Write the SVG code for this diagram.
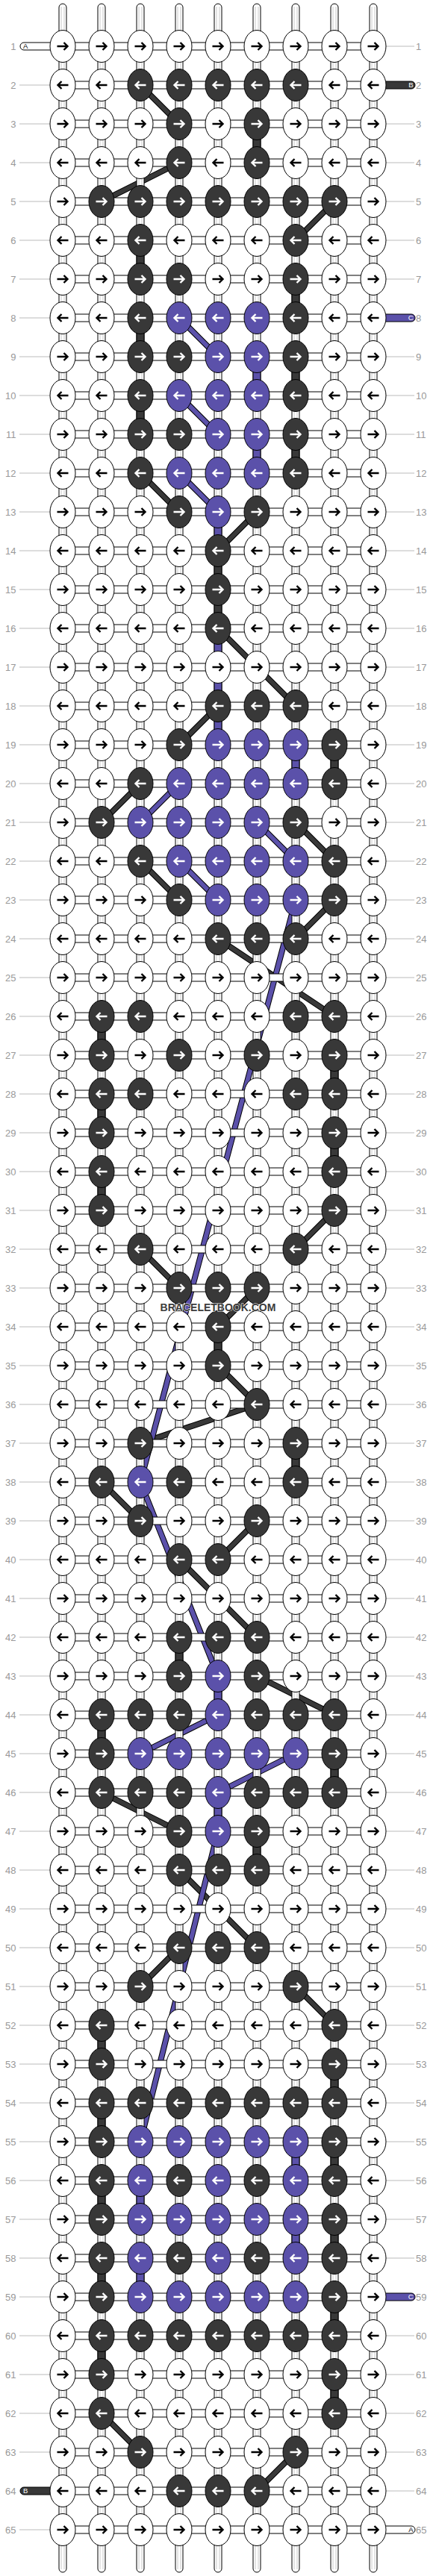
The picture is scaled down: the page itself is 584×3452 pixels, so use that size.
<svg xmlns="http://www.w3.org/2000/svg" xmlns:xlink="http://www.w3.org/1999/xlink" width="584" height="3452" viewBox="0 0 584 3452">
<style>
.kw{fill:#fff;stroke:#000;stroke-width:1}
.kd{fill:#383838;stroke:#000;stroke-width:1}
.kp{fill:#5b51aa;stroke:#000;stroke-width:1}
.ab{fill:none;stroke:#000;stroke-width:2.4}
.aw{fill:none;stroke:#fff;stroke-width:2.4}
.h{fill:#fff;stroke:#000;stroke-width:1}
.gl{fill:none;stroke:#bbb;stroke-width:1}
.nl{font:13px "Liberation Sans",Arial,sans-serif;fill:#999;text-anchor:end}
.nr{font:13px "Liberation Sans",Arial,sans-serif;fill:#999}
.tl{font:9.5px "Liberation Sans",Arial,sans-serif}
.so{fill:none;stroke:#000;stroke-width:8;stroke-linecap:butt}
.sd{fill:none;stroke:#383838;stroke-width:6;stroke-linecap:butt}
.sp{fill:none;stroke:#5b51aa;stroke-width:6;stroke-linecap:butt}
.col{fill:#fff;stroke:#000;stroke-width:1}
.inl{fill:none;stroke:#c8c8c8;stroke-width:1}
.vd{fill:#383838;stroke:#000;stroke-width:1}
.vp{fill:#5b51aa;stroke:#000;stroke-width:1}
.wm{font:bold 14px "Liberation Sans",Arial,sans-serif;fill:#3c3c3c;text-anchor:middle;stroke:#fff;stroke-width:1;paint-order:stroke}
</style>
<defs>
<g id="wR"><ellipse class="kw" rx="17" ry="21.5"/><path class="ab" d="M-7.5 0H6.5M1.5-5L6.5 0L1.5 5"/></g>
<g id="dR"><ellipse class="kd" rx="17" ry="21.5"/><path class="aw" d="M-7.5 0H6.5M1.5-5L6.5 0L1.5 5"/></g>
<g id="pR"><ellipse class="kp" rx="17" ry="21.5"/><path class="aw" d="M-7.5 0H6.5M1.5-5L6.5 0L1.5 5"/></g>
<g id="wL"><ellipse class="kw" rx="17" ry="21.5"/><path class="ab" d="M7.5 0H-6.5M-1.5-5L-6.5 0L-1.5 5"/></g>
<g id="dL"><ellipse class="kd" rx="17" ry="21.5"/><path class="aw" d="M7.5 0H-6.5M-1.5-5L-6.5 0L-1.5 5"/></g>
<g id="pL"><ellipse class="kp" rx="17" ry="21.5"/><path class="aw" d="M7.5 0H-6.5M-1.5-5L-6.5 0L-1.5 5"/></g>
<rect id="hc" class="h" x="84" y="-5" width="416" height="10"/>
<path id="gL" class="gl" d="M26 0H67"/>
<path id="gR" class="gl" d="M517 0H555"/>
<path id="pathD" d="M188 114L240 166M240 218L136 270M448 270L396 322M188 634L240 686M344 686L292 738M292 842L344 894L396 946M292 946L240 998M188 1050L136 1102M396 1102L448 1154M188 1154L240 1206M448 1206L396 1258M292 1258L448 1362M448 1622L396 1674M188 1674L240 1726M344 1726L292 1778M292 1830L344 1882L188 1934M136 1986L188 2038M344 2038L292 2090M240 2090L292 2142L344 2194M344 2246L448 2298M136 2402L240 2454M240 2506L292 2558L344 2610M240 2610L188 2662M396 2662L448 2714M136 3234L188 3286M396 3286L344 3338"/>
<path id="pathP" d="M240 426L292 478M240 530L292 582M240 634L292 686M240 1050L188 1102M344 1102L396 1154M240 1154L292 1206M396 1206L188 1986L292 2246M292 2298L188 2350M396 2350L292 2402M292 2454L188 2870"/>
</defs>
<rect width="584" height="3452" fill="#fff"/>
<g id="connectors">
<use href="#pathD" class="so"/><use href="#pathD" class="sd"/>
<use href="#pathP" class="so"/><use href="#pathP" class="sp"/>
</g>
<g id="threads">
<rect class="col" x="79" y="5" width="10" height="3442" rx="5"/>
<rect class="col" x="131" y="5" width="10" height="3442" rx="5"/>
<rect class="col" x="183" y="5" width="10" height="3442" rx="5"/>
<rect class="col" x="235" y="5" width="10" height="3442" rx="5"/>
<rect class="col" x="287" y="5" width="10" height="3442" rx="5"/>
<rect class="col" x="339" y="5" width="10" height="3442" rx="5"/>
<rect class="col" x="391" y="5" width="10" height="3442" rx="5"/>
<rect class="col" x="443" y="5" width="10" height="3442" rx="5"/>
<rect class="col" x="495" y="5" width="10" height="3442" rx="5"/>
<path class="inl" d="M82 9V3443M86 9V3443M134 9V3443M138 9V3443M186 9V3443M190 9V3443M238 9V3443M242 9V3443M290 9V3443M294 9V3443M342 9V3443M346 9V3443M394 9V3443M398 9V3443M446 9V3443M450 9V3443M498 9V3443M502 9V3443"/>
<rect class="vd" x="339" y="182" width="10" height="20"/>
<rect class="vd" x="183" y="338" width="10" height="20"/>
<rect class="vd" x="391" y="390" width="10" height="20"/>
<rect class="vd" x="183" y="442" width="10" height="20"/>
<rect class="vp" x="339" y="494" width="10" height="20"/>
<rect class="vd" x="391" y="494" width="10" height="20"/>
<rect class="vd" x="183" y="546" width="10" height="20"/>
<rect class="vp" x="339" y="598" width="10" height="20"/>
<rect class="vd" x="391" y="598" width="10" height="20"/>
<rect class="vp" x="287" y="702" width="10" height="20"/>
<rect class="vd" x="287" y="754" width="10" height="20"/>
<rect class="vd" x="287" y="806" width="10" height="20"/>
<rect class="vp" x="287" y="858" width="10" height="20"/>
<rect class="vp" x="287" y="910" width="10" height="20"/>
<rect class="vp" x="287" y="962" width="10" height="20"/>
<rect class="vp" x="391" y="1014" width="10" height="20"/>
<rect class="vd" x="443" y="1014" width="10" height="20"/>
<rect class="vd" x="131" y="1378" width="10" height="20"/>
<rect class="vd" x="443" y="1430" width="10" height="20"/>
<rect class="vd" x="131" y="1482" width="10" height="20"/>
<rect class="vd" x="443" y="1534" width="10" height="20"/>
<rect class="vd" x="131" y="1586" width="10" height="20"/>
<rect class="vd" x="287" y="1794" width="10" height="20"/>
<rect class="vd" x="391" y="1950" width="10" height="20"/>
<rect class="vd" x="235" y="2210" width="10" height="20"/>
<rect class="vp" x="287" y="2262" width="10" height="20"/>
<rect class="vd" x="131" y="2314" width="10" height="20"/>
<rect class="vd" x="443" y="2366" width="10" height="20"/>
<rect class="vp" x="287" y="2418" width="10" height="20"/>
<rect class="vd" x="339" y="2470" width="10" height="20"/>
<rect class="vd" x="131" y="2730" width="10" height="20"/>
<rect class="vd" x="443" y="2782" width="10" height="20"/>
<rect class="vd" x="131" y="2834" width="10" height="20"/>
<rect class="vp" x="391" y="2886" width="10" height="20"/>
<rect class="vd" x="443" y="2886" width="10" height="20"/>
<rect class="vd" x="131" y="2938" width="10" height="20"/>
<rect class="vp" x="183" y="2938" width="10" height="20"/>
<rect class="vp" x="391" y="2990" width="10" height="20"/>
<rect class="vd" x="443" y="2990" width="10" height="20"/>
<rect class="vd" x="131" y="3042" width="10" height="20"/>
<rect class="vp" x="183" y="3042" width="10" height="20"/>
<rect class="vd" x="443" y="3094" width="10" height="20"/>
<rect class="vd" x="131" y="3146" width="10" height="20"/>
<rect class="vd" x="443" y="3198" width="10" height="20"/>
</g>
<g id="row-1" transform="translate(0 62)"><text class="nl" x="21.5" y="4.5">1</text><use href="#gR"/><text class="nr" x="557" y="4.5">1</text><use href="#hc"/><path class="h" d="M75 -5H32A5 5 0 0 0 32 5H75Z"/><text class="tl" x="31" y="3.4" fill="#000">A</text><use href="#wR" x="84"/><use href="#wR" x="136"/><use href="#wR" x="188"/><use href="#wR" x="240"/><use href="#wR" x="292"/><use href="#wR" x="344"/><use href="#wR" x="396"/><use href="#wR" x="448"/><use href="#wR" x="500"/></g>
<g id="row-2" transform="translate(0 114)"><use href="#gL"/><text class="nl" x="21.5" y="4.5">2</text><text class="nr" x="557" y="4.5">2</text><use href="#hc"/><path class="kd" d="M509 -5H551A5 5 0 0 1 551 5H509Z"/><text class="tl" x="553.5" y="3.4" fill="#fff" text-anchor="end">B</text><use href="#wL" x="84"/><use href="#wL" x="136"/><use href="#dL" x="188"/><use href="#dL" x="240"/><use href="#dL" x="292"/><use href="#dL" x="344"/><use href="#dL" x="396"/><use href="#wL" x="448"/><use href="#wL" x="500"/></g>
<g id="row-3" transform="translate(0 166)"><use href="#gL"/><use href="#gR"/><text class="nl" x="21.5" y="4.5">3</text><text class="nr" x="557" y="4.5">3</text><use href="#hc"/><use href="#wR" x="84"/><use href="#wR" x="136"/><use href="#wR" x="188"/><use href="#dR" x="240"/><use href="#wR" x="292"/><use href="#dR" x="344"/><use href="#wR" x="396"/><use href="#wR" x="448"/><use href="#wR" x="500"/></g>
<g id="row-4" transform="translate(0 218)"><use href="#gL"/><use href="#gR"/><text class="nl" x="21.5" y="4.5">4</text><text class="nr" x="557" y="4.5">4</text><use href="#hc"/><use href="#wL" x="84"/><use href="#wL" x="136"/><use href="#wL" x="188"/><use href="#dL" x="240"/><use href="#wL" x="292"/><use href="#dL" x="344"/><use href="#wL" x="396"/><use href="#wL" x="448"/><use href="#wL" x="500"/></g>
<g id="row-5" transform="translate(0 270)"><use href="#gL"/><use href="#gR"/><text class="nl" x="21.5" y="4.5">5</text><text class="nr" x="557" y="4.5">5</text><use href="#hc"/><use href="#wR" x="84"/><use href="#dR" x="136"/><use href="#dR" x="188"/><use href="#dR" x="240"/><use href="#dR" x="292"/><use href="#dR" x="344"/><use href="#dR" x="396"/><use href="#dR" x="448"/><use href="#wR" x="500"/></g>
<g id="row-6" transform="translate(0 322)"><use href="#gL"/><use href="#gR"/><text class="nl" x="21.5" y="4.5">6</text><text class="nr" x="557" y="4.5">6</text><use href="#hc"/><use href="#wL" x="84"/><use href="#wL" x="136"/><use href="#dL" x="188"/><use href="#wL" x="240"/><use href="#wL" x="292"/><use href="#wL" x="344"/><use href="#dL" x="396"/><use href="#wL" x="448"/><use href="#wL" x="500"/></g>
<g id="row-7" transform="translate(0 374)"><use href="#gL"/><use href="#gR"/><text class="nl" x="21.5" y="4.5">7</text><text class="nr" x="557" y="4.5">7</text><use href="#hc"/><use href="#wR" x="84"/><use href="#wR" x="136"/><use href="#dR" x="188"/><use href="#dR" x="240"/><use href="#wR" x="292"/><use href="#wR" x="344"/><use href="#dR" x="396"/><use href="#wR" x="448"/><use href="#wR" x="500"/></g>
<g id="row-8" transform="translate(0 426)"><use href="#gL"/><text class="nl" x="21.5" y="4.5">8</text><text class="nr" x="557" y="4.5">8</text><use href="#hc"/><path class="kp" d="M509 -5H551A5 5 0 0 1 551 5H509Z"/><text class="tl" x="553.5" y="3.4" fill="#fff" text-anchor="end">C</text><use href="#wL" x="84"/><use href="#wL" x="136"/><use href="#dL" x="188"/><use href="#pL" x="240"/><use href="#pL" x="292"/><use href="#pL" x="344"/><use href="#dL" x="396"/><use href="#wL" x="448"/><use href="#wL" x="500"/></g>
<g id="row-9" transform="translate(0 478)"><use href="#gL"/><use href="#gR"/><text class="nl" x="21.5" y="4.5">9</text><text class="nr" x="557" y="4.5">9</text><use href="#hc"/><use href="#wR" x="84"/><use href="#wR" x="136"/><use href="#dR" x="188"/><use href="#dR" x="240"/><use href="#pR" x="292"/><use href="#pR" x="344"/><use href="#dR" x="396"/><use href="#wR" x="448"/><use href="#wR" x="500"/></g>
<g id="row-10" transform="translate(0 530)"><use href="#gL"/><use href="#gR"/><text class="nl" x="21.5" y="4.5">10</text><text class="nr" x="557" y="4.5">10</text><use href="#hc"/><use href="#wL" x="84"/><use href="#wL" x="136"/><use href="#dL" x="188"/><use href="#pL" x="240"/><use href="#pL" x="292"/><use href="#pL" x="344"/><use href="#dL" x="396"/><use href="#wL" x="448"/><use href="#wL" x="500"/></g>
<g id="row-11" transform="translate(0 582)"><use href="#gL"/><use href="#gR"/><text class="nl" x="21.5" y="4.5">11</text><text class="nr" x="557" y="4.5">11</text><use href="#hc"/><use href="#wR" x="84"/><use href="#wR" x="136"/><use href="#dR" x="188"/><use href="#dR" x="240"/><use href="#pR" x="292"/><use href="#pR" x="344"/><use href="#dR" x="396"/><use href="#wR" x="448"/><use href="#wR" x="500"/></g>
<g id="row-12" transform="translate(0 634)"><use href="#gL"/><use href="#gR"/><text class="nl" x="21.5" y="4.5">12</text><text class="nr" x="557" y="4.5">12</text><use href="#hc"/><use href="#wL" x="84"/><use href="#wL" x="136"/><use href="#dL" x="188"/><use href="#pL" x="240"/><use href="#pL" x="292"/><use href="#pL" x="344"/><use href="#dL" x="396"/><use href="#wL" x="448"/><use href="#wL" x="500"/></g>
<g id="row-13" transform="translate(0 686)"><use href="#gL"/><use href="#gR"/><text class="nl" x="21.5" y="4.5">13</text><text class="nr" x="557" y="4.5">13</text><use href="#hc"/><use href="#wR" x="84"/><use href="#wR" x="136"/><use href="#wR" x="188"/><use href="#dR" x="240"/><use href="#pR" x="292"/><use href="#dR" x="344"/><use href="#wR" x="396"/><use href="#wR" x="448"/><use href="#wR" x="500"/></g>
<g id="row-14" transform="translate(0 738)"><use href="#gL"/><use href="#gR"/><text class="nl" x="21.5" y="4.5">14</text><text class="nr" x="557" y="4.5">14</text><use href="#hc"/><use href="#wL" x="84"/><use href="#wL" x="136"/><use href="#wL" x="188"/><use href="#wL" x="240"/><use href="#dL" x="292"/><use href="#wL" x="344"/><use href="#wL" x="396"/><use href="#wL" x="448"/><use href="#wL" x="500"/></g>
<g id="row-15" transform="translate(0 790)"><use href="#gL"/><use href="#gR"/><text class="nl" x="21.5" y="4.5">15</text><text class="nr" x="557" y="4.5">15</text><use href="#hc"/><use href="#wR" x="84"/><use href="#wR" x="136"/><use href="#wR" x="188"/><use href="#wR" x="240"/><use href="#dR" x="292"/><use href="#wR" x="344"/><use href="#wR" x="396"/><use href="#wR" x="448"/><use href="#wR" x="500"/></g>
<g id="row-16" transform="translate(0 842)"><use href="#gL"/><use href="#gR"/><text class="nl" x="21.5" y="4.5">16</text><text class="nr" x="557" y="4.5">16</text><use href="#hc"/><use href="#wL" x="84"/><use href="#wL" x="136"/><use href="#wL" x="188"/><use href="#wL" x="240"/><use href="#dL" x="292"/><use href="#wL" x="344"/><use href="#wL" x="396"/><use href="#wL" x="448"/><use href="#wL" x="500"/></g>
<g id="row-17" transform="translate(0 894)"><use href="#gL"/><use href="#gR"/><text class="nl" x="21.5" y="4.5">17</text><text class="nr" x="557" y="4.5">17</text><use href="#hc"/><use href="#wR" x="84"/><use href="#wR" x="136"/><use href="#wR" x="188"/><use href="#wR" x="240"/><use href="#wR" x="292"/><use href="#wR" x="344"/><use href="#wR" x="396"/><use href="#wR" x="448"/><use href="#wR" x="500"/></g>
<g id="row-18" transform="translate(0 946)"><use href="#gL"/><use href="#gR"/><text class="nl" x="21.5" y="4.5">18</text><text class="nr" x="557" y="4.5">18</text><use href="#hc"/><use href="#wL" x="84"/><use href="#wL" x="136"/><use href="#wL" x="188"/><use href="#wL" x="240"/><use href="#dL" x="292"/><use href="#dL" x="344"/><use href="#dL" x="396"/><use href="#wL" x="448"/><use href="#wL" x="500"/></g>
<g id="row-19" transform="translate(0 998)"><use href="#gL"/><use href="#gR"/><text class="nl" x="21.5" y="4.5">19</text><text class="nr" x="557" y="4.5">19</text><use href="#hc"/><use href="#wR" x="84"/><use href="#wR" x="136"/><use href="#wR" x="188"/><use href="#dR" x="240"/><use href="#pR" x="292"/><use href="#pR" x="344"/><use href="#pR" x="396"/><use href="#dR" x="448"/><use href="#wR" x="500"/></g>
<g id="row-20" transform="translate(0 1050)"><use href="#gL"/><use href="#gR"/><text class="nl" x="21.5" y="4.5">20</text><text class="nr" x="557" y="4.5">20</text><use href="#hc"/><use href="#wL" x="84"/><use href="#wL" x="136"/><use href="#dL" x="188"/><use href="#pL" x="240"/><use href="#pL" x="292"/><use href="#pL" x="344"/><use href="#pL" x="396"/><use href="#dL" x="448"/><use href="#wL" x="500"/></g>
<g id="row-21" transform="translate(0 1102)"><use href="#gL"/><use href="#gR"/><text class="nl" x="21.5" y="4.5">21</text><text class="nr" x="557" y="4.5">21</text><use href="#hc"/><use href="#wR" x="84"/><use href="#dR" x="136"/><use href="#pR" x="188"/><use href="#pR" x="240"/><use href="#pR" x="292"/><use href="#pR" x="344"/><use href="#dR" x="396"/><use href="#wR" x="448"/><use href="#wR" x="500"/></g>
<g id="row-22" transform="translate(0 1154)"><use href="#gL"/><use href="#gR"/><text class="nl" x="21.5" y="4.5">22</text><text class="nr" x="557" y="4.5">22</text><use href="#hc"/><use href="#wL" x="84"/><use href="#wL" x="136"/><use href="#dL" x="188"/><use href="#pL" x="240"/><use href="#pL" x="292"/><use href="#pL" x="344"/><use href="#pL" x="396"/><use href="#dL" x="448"/><use href="#wL" x="500"/></g>
<g id="row-23" transform="translate(0 1206)"><use href="#gL"/><use href="#gR"/><text class="nl" x="21.5" y="4.5">23</text><text class="nr" x="557" y="4.5">23</text><use href="#hc"/><use href="#wR" x="84"/><use href="#wR" x="136"/><use href="#wR" x="188"/><use href="#dR" x="240"/><use href="#pR" x="292"/><use href="#pR" x="344"/><use href="#pR" x="396"/><use href="#dR" x="448"/><use href="#wR" x="500"/></g>
<g id="row-24" transform="translate(0 1258)"><use href="#gL"/><use href="#gR"/><text class="nl" x="21.5" y="4.5">24</text><text class="nr" x="557" y="4.5">24</text><use href="#hc"/><use href="#wL" x="84"/><use href="#wL" x="136"/><use href="#wL" x="188"/><use href="#wL" x="240"/><use href="#dL" x="292"/><use href="#dL" x="344"/><use href="#dL" x="396"/><use href="#wL" x="448"/><use href="#wL" x="500"/></g>
<g id="row-25" transform="translate(0 1310)"><use href="#gL"/><use href="#gR"/><text class="nl" x="21.5" y="4.5">25</text><text class="nr" x="557" y="4.5">25</text><use href="#hc"/><use href="#wR" x="84"/><use href="#wR" x="136"/><use href="#wR" x="188"/><use href="#wR" x="240"/><use href="#wR" x="292"/><use href="#wR" x="344"/><use href="#wR" x="396"/><use href="#wR" x="448"/><use href="#wR" x="500"/></g>
<g id="row-26" transform="translate(0 1362)"><use href="#gL"/><use href="#gR"/><text class="nl" x="21.5" y="4.5">26</text><text class="nr" x="557" y="4.5">26</text><use href="#hc"/><use href="#wL" x="84"/><use href="#dL" x="136"/><use href="#dL" x="188"/><use href="#wL" x="240"/><use href="#wL" x="292"/><use href="#wL" x="344"/><use href="#dL" x="396"/><use href="#dL" x="448"/><use href="#wL" x="500"/></g>
<g id="row-27" transform="translate(0 1414)"><use href="#gL"/><use href="#gR"/><text class="nl" x="21.5" y="4.5">27</text><text class="nr" x="557" y="4.5">27</text><use href="#hc"/><use href="#wR" x="84"/><use href="#dR" x="136"/><use href="#wR" x="188"/><use href="#dR" x="240"/><use href="#wR" x="292"/><use href="#dR" x="344"/><use href="#wR" x="396"/><use href="#dR" x="448"/><use href="#wR" x="500"/></g>
<g id="row-28" transform="translate(0 1466)"><use href="#gL"/><use href="#gR"/><text class="nl" x="21.5" y="4.5">28</text><text class="nr" x="557" y="4.5">28</text><use href="#hc"/><use href="#wL" x="84"/><use href="#dL" x="136"/><use href="#dL" x="188"/><use href="#wL" x="240"/><use href="#wL" x="292"/><use href="#wL" x="344"/><use href="#dL" x="396"/><use href="#dL" x="448"/><use href="#wL" x="500"/></g>
<g id="row-29" transform="translate(0 1518)"><use href="#gL"/><use href="#gR"/><text class="nl" x="21.5" y="4.5">29</text><text class="nr" x="557" y="4.5">29</text><use href="#hc"/><use href="#wR" x="84"/><use href="#dR" x="136"/><use href="#wR" x="188"/><use href="#wR" x="240"/><use href="#wR" x="292"/><use href="#wR" x="344"/><use href="#wR" x="396"/><use href="#dR" x="448"/><use href="#wR" x="500"/></g>
<g id="row-30" transform="translate(0 1570)"><use href="#gL"/><use href="#gR"/><text class="nl" x="21.5" y="4.5">30</text><text class="nr" x="557" y="4.5">30</text><use href="#hc"/><use href="#wL" x="84"/><use href="#dL" x="136"/><use href="#wL" x="188"/><use href="#wL" x="240"/><use href="#wL" x="292"/><use href="#wL" x="344"/><use href="#wL" x="396"/><use href="#dL" x="448"/><use href="#wL" x="500"/></g>
<g id="row-31" transform="translate(0 1622)"><use href="#gL"/><use href="#gR"/><text class="nl" x="21.5" y="4.5">31</text><text class="nr" x="557" y="4.5">31</text><use href="#hc"/><use href="#wR" x="84"/><use href="#dR" x="136"/><use href="#wR" x="188"/><use href="#wR" x="240"/><use href="#wR" x="292"/><use href="#wR" x="344"/><use href="#wR" x="396"/><use href="#dR" x="448"/><use href="#wR" x="500"/></g>
<g id="row-32" transform="translate(0 1674)"><use href="#gL"/><use href="#gR"/><text class="nl" x="21.5" y="4.5">32</text><text class="nr" x="557" y="4.5">32</text><use href="#hc"/><use href="#wL" x="84"/><use href="#wL" x="136"/><use href="#dL" x="188"/><use href="#wL" x="240"/><use href="#wL" x="292"/><use href="#wL" x="344"/><use href="#dL" x="396"/><use href="#wL" x="448"/><use href="#wL" x="500"/></g>
<g id="row-33" transform="translate(0 1726)"><use href="#gL"/><use href="#gR"/><text class="nl" x="21.5" y="4.5">33</text><text class="nr" x="557" y="4.5">33</text><use href="#hc"/><use href="#wR" x="84"/><use href="#wR" x="136"/><use href="#wR" x="188"/><use href="#dR" x="240"/><use href="#dR" x="292"/><use href="#dR" x="344"/><use href="#wR" x="396"/><use href="#wR" x="448"/><use href="#wR" x="500"/></g>
<g id="row-34" transform="translate(0 1778)"><use href="#gL"/><use href="#gR"/><text class="nl" x="21.5" y="4.5">34</text><text class="nr" x="557" y="4.5">34</text><use href="#hc"/><use href="#wL" x="84"/><use href="#wL" x="136"/><use href="#wL" x="188"/><use href="#wL" x="240"/><use href="#dL" x="292"/><use href="#wL" x="344"/><use href="#wL" x="396"/><use href="#wL" x="448"/><use href="#wL" x="500"/></g>
<g id="row-35" transform="translate(0 1830)"><use href="#gL"/><use href="#gR"/><text class="nl" x="21.5" y="4.5">35</text><text class="nr" x="557" y="4.5">35</text><use href="#hc"/><use href="#wR" x="84"/><use href="#wR" x="136"/><use href="#wR" x="188"/><use href="#wR" x="240"/><use href="#dR" x="292"/><use href="#wR" x="344"/><use href="#wR" x="396"/><use href="#wR" x="448"/><use href="#wR" x="500"/></g>
<g id="row-36" transform="translate(0 1882)"><use href="#gL"/><use href="#gR"/><text class="nl" x="21.5" y="4.5">36</text><text class="nr" x="557" y="4.5">36</text><use href="#hc"/><use href="#wL" x="84"/><use href="#wL" x="136"/><use href="#wL" x="188"/><use href="#wL" x="240"/><use href="#wL" x="292"/><use href="#dL" x="344"/><use href="#wL" x="396"/><use href="#wL" x="448"/><use href="#wL" x="500"/></g>
<g id="row-37" transform="translate(0 1934)"><use href="#gL"/><use href="#gR"/><text class="nl" x="21.5" y="4.5">37</text><text class="nr" x="557" y="4.5">37</text><use href="#hc"/><use href="#wR" x="84"/><use href="#wR" x="136"/><use href="#dR" x="188"/><use href="#wR" x="240"/><use href="#wR" x="292"/><use href="#wR" x="344"/><use href="#dR" x="396"/><use href="#wR" x="448"/><use href="#wR" x="500"/></g>
<g id="row-38" transform="translate(0 1986)"><use href="#gL"/><use href="#gR"/><text class="nl" x="21.5" y="4.5">38</text><text class="nr" x="557" y="4.5">38</text><use href="#hc"/><use href="#wL" x="84"/><use href="#dL" x="136"/><use href="#pL" x="188"/><use href="#dL" x="240"/><use href="#wL" x="292"/><use href="#wL" x="344"/><use href="#dL" x="396"/><use href="#wL" x="448"/><use href="#wL" x="500"/></g>
<g id="row-39" transform="translate(0 2038)"><use href="#gL"/><use href="#gR"/><text class="nl" x="21.5" y="4.5">39</text><text class="nr" x="557" y="4.5">39</text><use href="#hc"/><use href="#wR" x="84"/><use href="#wR" x="136"/><use href="#dR" x="188"/><use href="#wR" x="240"/><use href="#wR" x="292"/><use href="#dR" x="344"/><use href="#wR" x="396"/><use href="#wR" x="448"/><use href="#wR" x="500"/></g>
<g id="row-40" transform="translate(0 2090)"><use href="#gL"/><use href="#gR"/><text class="nl" x="21.5" y="4.5">40</text><text class="nr" x="557" y="4.5">40</text><use href="#hc"/><use href="#wL" x="84"/><use href="#wL" x="136"/><use href="#wL" x="188"/><use href="#dL" x="240"/><use href="#dL" x="292"/><use href="#wL" x="344"/><use href="#wL" x="396"/><use href="#wL" x="448"/><use href="#wL" x="500"/></g>
<g id="row-41" transform="translate(0 2142)"><use href="#gL"/><use href="#gR"/><text class="nl" x="21.5" y="4.5">41</text><text class="nr" x="557" y="4.5">41</text><use href="#hc"/><use href="#wR" x="84"/><use href="#wR" x="136"/><use href="#wR" x="188"/><use href="#wR" x="240"/><use href="#wR" x="292"/><use href="#wR" x="344"/><use href="#wR" x="396"/><use href="#wR" x="448"/><use href="#wR" x="500"/></g>
<g id="row-42" transform="translate(0 2194)"><use href="#gL"/><use href="#gR"/><text class="nl" x="21.5" y="4.5">42</text><text class="nr" x="557" y="4.5">42</text><use href="#hc"/><use href="#wL" x="84"/><use href="#wL" x="136"/><use href="#wL" x="188"/><use href="#dL" x="240"/><use href="#dL" x="292"/><use href="#dL" x="344"/><use href="#wL" x="396"/><use href="#wL" x="448"/><use href="#wL" x="500"/></g>
<g id="row-43" transform="translate(0 2246)"><use href="#gL"/><use href="#gR"/><text class="nl" x="21.5" y="4.5">43</text><text class="nr" x="557" y="4.5">43</text><use href="#hc"/><use href="#wR" x="84"/><use href="#wR" x="136"/><use href="#wR" x="188"/><use href="#dR" x="240"/><use href="#pR" x="292"/><use href="#dR" x="344"/><use href="#wR" x="396"/><use href="#wR" x="448"/><use href="#wR" x="500"/></g>
<g id="row-44" transform="translate(0 2298)"><use href="#gL"/><use href="#gR"/><text class="nl" x="21.5" y="4.5">44</text><text class="nr" x="557" y="4.5">44</text><use href="#hc"/><use href="#wL" x="84"/><use href="#dL" x="136"/><use href="#dL" x="188"/><use href="#dL" x="240"/><use href="#pL" x="292"/><use href="#dL" x="344"/><use href="#dL" x="396"/><use href="#dL" x="448"/><use href="#wL" x="500"/></g>
<g id="row-45" transform="translate(0 2350)"><use href="#gL"/><use href="#gR"/><text class="nl" x="21.5" y="4.5">45</text><text class="nr" x="557" y="4.5">45</text><use href="#hc"/><use href="#wR" x="84"/><use href="#dR" x="136"/><use href="#pR" x="188"/><use href="#pR" x="240"/><use href="#pR" x="292"/><use href="#pR" x="344"/><use href="#pR" x="396"/><use href="#dR" x="448"/><use href="#wR" x="500"/></g>
<g id="row-46" transform="translate(0 2402)"><use href="#gL"/><use href="#gR"/><text class="nl" x="21.5" y="4.5">46</text><text class="nr" x="557" y="4.5">46</text><use href="#hc"/><use href="#wL" x="84"/><use href="#dL" x="136"/><use href="#dL" x="188"/><use href="#dL" x="240"/><use href="#pL" x="292"/><use href="#dL" x="344"/><use href="#dL" x="396"/><use href="#dL" x="448"/><use href="#wL" x="500"/></g>
<g id="row-47" transform="translate(0 2454)"><use href="#gL"/><use href="#gR"/><text class="nl" x="21.5" y="4.5">47</text><text class="nr" x="557" y="4.5">47</text><use href="#hc"/><use href="#wR" x="84"/><use href="#wR" x="136"/><use href="#wR" x="188"/><use href="#dR" x="240"/><use href="#pR" x="292"/><use href="#dR" x="344"/><use href="#wR" x="396"/><use href="#wR" x="448"/><use href="#wR" x="500"/></g>
<g id="row-48" transform="translate(0 2506)"><use href="#gL"/><use href="#gR"/><text class="nl" x="21.5" y="4.5">48</text><text class="nr" x="557" y="4.5">48</text><use href="#hc"/><use href="#wL" x="84"/><use href="#wL" x="136"/><use href="#wL" x="188"/><use href="#dL" x="240"/><use href="#dL" x="292"/><use href="#dL" x="344"/><use href="#wL" x="396"/><use href="#wL" x="448"/><use href="#wL" x="500"/></g>
<g id="row-49" transform="translate(0 2558)"><use href="#gL"/><use href="#gR"/><text class="nl" x="21.5" y="4.5">49</text><text class="nr" x="557" y="4.5">49</text><use href="#hc"/><use href="#wR" x="84"/><use href="#wR" x="136"/><use href="#wR" x="188"/><use href="#wR" x="240"/><use href="#wR" x="292"/><use href="#wR" x="344"/><use href="#wR" x="396"/><use href="#wR" x="448"/><use href="#wR" x="500"/></g>
<g id="row-50" transform="translate(0 2610)"><use href="#gL"/><use href="#gR"/><text class="nl" x="21.5" y="4.5">50</text><text class="nr" x="557" y="4.5">50</text><use href="#hc"/><use href="#wL" x="84"/><use href="#wL" x="136"/><use href="#wL" x="188"/><use href="#dL" x="240"/><use href="#dL" x="292"/><use href="#dL" x="344"/><use href="#wL" x="396"/><use href="#wL" x="448"/><use href="#wL" x="500"/></g>
<g id="row-51" transform="translate(0 2662)"><use href="#gL"/><use href="#gR"/><text class="nl" x="21.5" y="4.5">51</text><text class="nr" x="557" y="4.5">51</text><use href="#hc"/><use href="#wR" x="84"/><use href="#wR" x="136"/><use href="#dR" x="188"/><use href="#wR" x="240"/><use href="#wR" x="292"/><use href="#wR" x="344"/><use href="#dR" x="396"/><use href="#wR" x="448"/><use href="#wR" x="500"/></g>
<g id="row-52" transform="translate(0 2714)"><use href="#gL"/><use href="#gR"/><text class="nl" x="21.5" y="4.5">52</text><text class="nr" x="557" y="4.5">52</text><use href="#hc"/><use href="#wL" x="84"/><use href="#dL" x="136"/><use href="#wL" x="188"/><use href="#wL" x="240"/><use href="#wL" x="292"/><use href="#wL" x="344"/><use href="#wL" x="396"/><use href="#dL" x="448"/><use href="#wL" x="500"/></g>
<g id="row-53" transform="translate(0 2766)"><use href="#gL"/><use href="#gR"/><text class="nl" x="21.5" y="4.5">53</text><text class="nr" x="557" y="4.5">53</text><use href="#hc"/><use href="#wR" x="84"/><use href="#dR" x="136"/><use href="#wR" x="188"/><use href="#wR" x="240"/><use href="#wR" x="292"/><use href="#wR" x="344"/><use href="#wR" x="396"/><use href="#dR" x="448"/><use href="#wR" x="500"/></g>
<g id="row-54" transform="translate(0 2818)"><use href="#gL"/><use href="#gR"/><text class="nl" x="21.5" y="4.5">54</text><text class="nr" x="557" y="4.5">54</text><use href="#hc"/><use href="#wL" x="84"/><use href="#dL" x="136"/><use href="#dL" x="188"/><use href="#dL" x="240"/><use href="#dL" x="292"/><use href="#dL" x="344"/><use href="#dL" x="396"/><use href="#dL" x="448"/><use href="#wL" x="500"/></g>
<g id="row-55" transform="translate(0 2870)"><use href="#gL"/><use href="#gR"/><text class="nl" x="21.5" y="4.5">55</text><text class="nr" x="557" y="4.5">55</text><use href="#hc"/><use href="#wR" x="84"/><use href="#dR" x="136"/><use href="#pR" x="188"/><use href="#pR" x="240"/><use href="#pR" x="292"/><use href="#pR" x="344"/><use href="#pR" x="396"/><use href="#dR" x="448"/><use href="#wR" x="500"/></g>
<g id="row-56" transform="translate(0 2922)"><use href="#gL"/><use href="#gR"/><text class="nl" x="21.5" y="4.5">56</text><text class="nr" x="557" y="4.5">56</text><use href="#hc"/><use href="#wL" x="84"/><use href="#dL" x="136"/><use href="#pL" x="188"/><use href="#dL" x="240"/><use href="#pL" x="292"/><use href="#dL" x="344"/><use href="#pL" x="396"/><use href="#dL" x="448"/><use href="#wL" x="500"/></g>
<g id="row-57" transform="translate(0 2974)"><use href="#gL"/><use href="#gR"/><text class="nl" x="21.5" y="4.5">57</text><text class="nr" x="557" y="4.5">57</text><use href="#hc"/><use href="#wR" x="84"/><use href="#dR" x="136"/><use href="#pR" x="188"/><use href="#pR" x="240"/><use href="#pR" x="292"/><use href="#pR" x="344"/><use href="#pR" x="396"/><use href="#dR" x="448"/><use href="#wR" x="500"/></g>
<g id="row-58" transform="translate(0 3026)"><use href="#gL"/><use href="#gR"/><text class="nl" x="21.5" y="4.5">58</text><text class="nr" x="557" y="4.5">58</text><use href="#hc"/><use href="#wL" x="84"/><use href="#dL" x="136"/><use href="#pL" x="188"/><use href="#dL" x="240"/><use href="#pL" x="292"/><use href="#dL" x="344"/><use href="#pL" x="396"/><use href="#dL" x="448"/><use href="#wL" x="500"/></g>
<g id="row-59" transform="translate(0 3078)"><use href="#gL"/><text class="nl" x="21.5" y="4.5">59</text><text class="nr" x="557" y="4.5">59</text><use href="#hc"/><path class="kp" d="M509 -5H551A5 5 0 0 1 551 5H509Z"/><text class="tl" x="553.5" y="3.4" fill="#fff" text-anchor="end">C</text><use href="#wR" x="84"/><use href="#dR" x="136"/><use href="#pR" x="188"/><use href="#pR" x="240"/><use href="#pR" x="292"/><use href="#pR" x="344"/><use href="#pR" x="396"/><use href="#dR" x="448"/><use href="#wR" x="500"/></g>
<g id="row-60" transform="translate(0 3130)"><use href="#gL"/><use href="#gR"/><text class="nl" x="21.5" y="4.5">60</text><text class="nr" x="557" y="4.5">60</text><use href="#hc"/><use href="#wL" x="84"/><use href="#dL" x="136"/><use href="#dL" x="188"/><use href="#dL" x="240"/><use href="#dL" x="292"/><use href="#dL" x="344"/><use href="#dL" x="396"/><use href="#dL" x="448"/><use href="#wL" x="500"/></g>
<g id="row-61" transform="translate(0 3182)"><use href="#gL"/><use href="#gR"/><text class="nl" x="21.5" y="4.5">61</text><text class="nr" x="557" y="4.5">61</text><use href="#hc"/><use href="#wR" x="84"/><use href="#dR" x="136"/><use href="#wR" x="188"/><use href="#wR" x="240"/><use href="#wR" x="292"/><use href="#wR" x="344"/><use href="#wR" x="396"/><use href="#dR" x="448"/><use href="#wR" x="500"/></g>
<g id="row-62" transform="translate(0 3234)"><use href="#gL"/><use href="#gR"/><text class="nl" x="21.5" y="4.5">62</text><text class="nr" x="557" y="4.5">62</text><use href="#hc"/><use href="#wL" x="84"/><use href="#dL" x="136"/><use href="#wL" x="188"/><use href="#wL" x="240"/><use href="#wL" x="292"/><use href="#wL" x="344"/><use href="#wL" x="396"/><use href="#dL" x="448"/><use href="#wL" x="500"/></g>
<g id="row-63" transform="translate(0 3286)"><use href="#gL"/><use href="#gR"/><text class="nl" x="21.5" y="4.5">63</text><text class="nr" x="557" y="4.5">63</text><use href="#hc"/><use href="#wR" x="84"/><use href="#wR" x="136"/><use href="#dR" x="188"/><use href="#wR" x="240"/><use href="#wR" x="292"/><use href="#wR" x="344"/><use href="#dR" x="396"/><use href="#wR" x="448"/><use href="#wR" x="500"/></g>
<g id="row-64" transform="translate(0 3338)"><use href="#gR"/><text class="nl" x="21.5" y="4.5">64</text><text class="nr" x="557" y="4.5">64</text><use href="#hc"/><path class="kd" d="M75 -5H32A5 5 0 0 0 32 5H75Z"/><text class="tl" x="31" y="3.4" fill="#fff">B</text><use href="#wL" x="84"/><use href="#wL" x="136"/><use href="#wL" x="188"/><use href="#dL" x="240"/><use href="#dL" x="292"/><use href="#dL" x="344"/><use href="#wL" x="396"/><use href="#wL" x="448"/><use href="#wL" x="500"/></g>
<g id="row-65" transform="translate(0 3390)"><use href="#gL"/><text class="nl" x="21.5" y="4.5">65</text><text class="nr" x="557" y="4.5">65</text><use href="#hc"/><path class="h" d="M509 -5H551A5 5 0 0 1 551 5H509Z"/><text class="tl" x="553.5" y="3.4" fill="#000" text-anchor="end">A</text><use href="#wR" x="84"/><use href="#wR" x="136"/><use href="#wR" x="188"/><use href="#wR" x="240"/><use href="#wR" x="292"/><use href="#wR" x="344"/><use href="#wR" x="396"/><use href="#wR" x="448"/><use href="#wR" x="500"/></g>
<text class="wm" x="292" y="1757">BRACELETBOOK.COM</text>
</svg>
